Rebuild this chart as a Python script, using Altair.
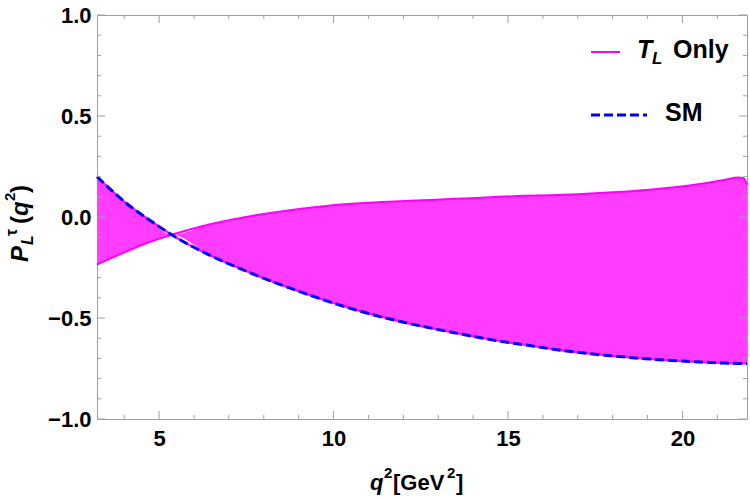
import altair as alt
import pandas as pd

# ---- data ----
q_vals = [3.22, 4.07, 4.7, 5.36, 6.46, 7.41, 7.89, 8.8, 9.8, 11.0, 12.19, 13.5, 14.5,
          15.48, 16.2, 17.0, 18.0, 19.06, 20.5, 21.2, 21.6, 21.75, 21.85]
sm_vals = [0.20, 0.067, -0.012, -0.088, -0.19, -0.262, -0.296, -0.355, -0.415, -0.478, -0.528,
           -0.574, -0.607, -0.633, -0.652, -0.67, -0.688, -0.703, -0.718, -0.723, -0.725,
           -0.725, -0.725]
tl_vals = [-0.235, -0.17, -0.125, -0.088, -0.036, -0.002, 0.012, 0.035, 0.055, 0.07, 0.08,
           0.09, 0.098, 0.105, 0.108, 0.113, 0.122, 0.135, 0.163, 0.183, 0.195, 0.192, 0.16]

x_major = [5, 10, 15, 20]
x_minor = [4, 6, 7, 8, 9, 11, 12, 13, 14, 16, 17, 18, 19, 21]
y_major = [-1.0, -0.5, 0.0, 0.5, 1.0]
y_minor = [-0.9, -0.8, -0.7, -0.6, -0.4, -0.3, -0.2, -0.1, 0.1, 0.2, 0.3, 0.4, 0.6, 0.7, 0.8, 0.9]

X_DOMAIN = [3.22, 21.85]
Y_DOMAIN = [-1.0, 1.0]

W, H = 650, 404
FONT = "Liberation Sans"
MAG = "#ff00ff"
FILL = "#ff3cff"
BLUE = "#0000ff"
FRAME = "#a0a0a0"

df = pd.DataFrame({"q": q_vals, "sm": sm_vals, "tl": tl_vals})
df["lo"] = df[["sm", "tl"]].min(axis=1)
df["hi"] = df[["sm", "tl"]].max(axis=1)

xs = alt.Scale(domain=X_DOMAIN, nice=False, zero=False)
ys = alt.Scale(domain=Y_DOMAIN, nice=False, zero=False)

xaxis = alt.Axis(values=x_major, format="d", title=None, ticks=False, domain=False, grid=False,
                 labelFont=FONT, labelFontSize=22, labelFontWeight="bold", labelColor="black",
                 labelPadding=9, labelFlush=False)
yaxis = alt.Axis(values=y_major, format=".1f", title=None, ticks=False, domain=False, grid=False,
                 labelFont=FONT, labelFontSize=22, labelFontWeight="bold", labelColor="black",
                 labelPadding=6, labelFlush=False)

base = alt.Chart(df)

band = base.mark_area(color=FILL, opacity=1, interpolate="monotone").encode(
    x=alt.X("q:Q", scale=xs, axis=xaxis),
    y=alt.Y("lo:Q", scale=ys, axis=yaxis),
    y2="hi:Q",
)
tl_line = base.mark_line(color=MAG, strokeWidth=2, interpolate="monotone").encode(
    x=alt.X("q:Q", scale=xs), y=alt.Y("tl:Q", scale=ys))
sm_under = base.mark_line(color=MAG, strokeWidth=2, interpolate="monotone").encode(
    x=alt.X("q:Q", scale=xs), y=alt.Y("sm:Q", scale=ys))
sm_line = base.mark_line(color=BLUE, strokeWidth=3, strokeDash=[9, 4], interpolate="monotone").encode(
    x=alt.X("q:Q", scale=xs), y=alt.Y("sm:Q", scale=ys))

# inward frame ticks
def xticks(vals, length):
    d = pd.DataFrame({"v": vals})
    bot = alt.Chart(d).mark_rule(color=FRAME, strokeWidth=1).encode(
        x=alt.X("v:Q", scale=xs), y=alt.value(H), y2=alt.value(H - length))
    top = alt.Chart(d).mark_rule(color=FRAME, strokeWidth=1).encode(
        x=alt.X("v:Q", scale=xs), y=alt.value(0), y2=alt.value(length))
    return [bot, top]

def yticks(vals, length):
    d = pd.DataFrame({"v": vals})
    left = alt.Chart(d).mark_rule(color=FRAME, strokeWidth=1).encode(
        y=alt.Y("v:Q", scale=ys), x=alt.value(0), x2=alt.value(length))
    right = alt.Chart(d).mark_rule(color=FRAME, strokeWidth=1).encode(
        y=alt.Y("v:Q", scale=ys), x=alt.value(W), x2=alt.value(W - length))
    return [left, right]

ticks = xticks(x_major, 8) + xticks(x_minor, 4) + yticks(y_major, 8) + yticks(y_minor, 4)

# text helpers (positions relative to plot origin at canvas (97, 15))
OX, OY = 97, 15

def txt(s, cx, cy, size, italic=False, angle=0, align="left", baseline="alphabetic"):
    return alt.Chart(pd.DataFrame({"t": [s]})).mark_text(
        font=FONT, fontSize=size, fontWeight="bold", fontStyle="italic" if italic else "normal",
        color="black", align=align, baseline=baseline, angle=angle,
    ).encode(text="t:N", x=alt.value(cx - OX), y=alt.value(cy - OY))

# legend
leg_tl = alt.Chart(pd.DataFrame({"a": [0]})).mark_rule(color=MAG, strokeWidth=2).encode(
    x=alt.value(591 - OX), x2=alt.value(620 - OX), y=alt.value(52 - OY))
leg_sm = alt.Chart(pd.DataFrame({"a": [0]})).mark_rule(color=BLUE, strokeWidth=3, strokeDash=[9, 4]).encode(
    x=alt.value(591 - OX), x2=alt.value(647 - OX), y=alt.value(115 - OY))
legend_txt = [
    txt("T", 637, 58, 25, italic=True),
    txt("L", 652, 64, 17, italic=True),
    txt("Only", 673, 58, 25),
    txt("SM", 665, 121, 25),
]

# x title  q^2[GeV^2]
xtitle = [
    txt("q", 370, 490, 22, italic=True),
    txt("2", 384, 478, 15),
    txt("[GeV", 393, 490, 22),
    txt("2", 447, 478, 15),
    txt("]", 456, 490, 22),
]

# y title  P_L^tau(q^2), rotated
ytitle = [
    txt("P", 28, 262, 24, italic=True, angle=270),
    txt("L", 33, 245, 16, italic=True, angle=270),
    txt("τ", 17, 236, 16, angle=270),
    txt("(", 28, 224, 24, angle=270),
    txt("q", 28, 216, 24, italic=True, angle=270),
    txt("2", 15, 201, 15, angle=270),
    txt(")", 28, 193, 24, angle=270),
]

chart = alt.layer(
    band, tl_line, sm_under, sm_line, *ticks, leg_tl, leg_sm, *legend_txt, *xtitle, *ytitle
).properties(
    width=W, height=H,
    autosize=alt.AutoSizeParams(type="none"),
    padding={"left": OX, "top": OY, "right": 750 - OX - W, "bottom": 498 - OY - H},
).configure_view(stroke=FRAME, strokeWidth=1)

chart.save("out.html", embed_options={"renderer": "svg", "actions": False})
